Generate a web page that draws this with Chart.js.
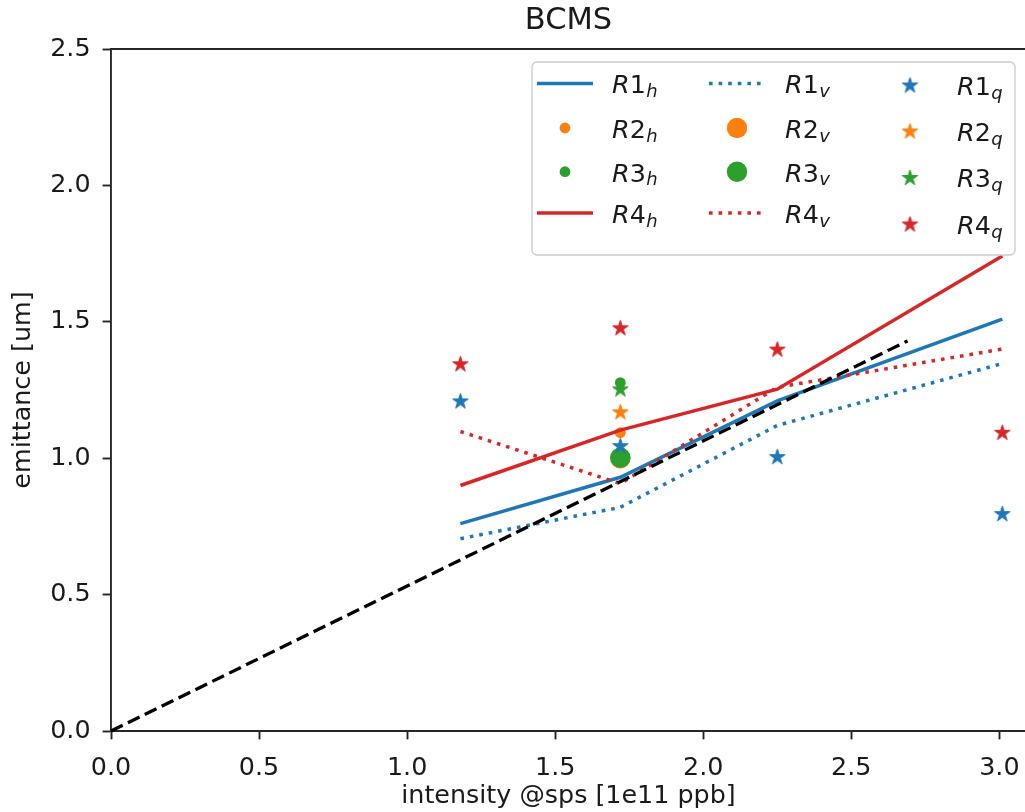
<!DOCTYPE html>
<html><head><meta charset="utf-8">
<script src="https://cdn.jsdelivr.net/npm/chart.js@4.4.0/dist/chart.umd.min.js"></script>
<style>
html,body{margin:0;padding:0;overflow:hidden;background:#fff;width:1025px;height:812px}
#wrap{position:absolute;left:0;top:0;width:1040px;height:812px}
</style>
</head><body><div id="wrap"><canvas id="c" width="1040" height="812"></canvas></div>
<script>
// ---- data ----
const intensity = [1.18, 1.72, 2.25, 3.01];
const R1h = [0.76, 0.93, 1.21, 1.51];
const R1v = [0.705, 0.82, 1.12, 1.347];
const R4h = [0.90, 1.103, 1.253, 1.741];
const R4v = [1.098, 0.907, 1.26, 1.40];
const singleX = [1.72];
const R2h = [1.094];
const R3h = [1.277];
const R2v = [1.0];
const R3v = [1.002];
const R1q = [1.21, 1.046, 1.006, 0.797];
const R2q = [1.17];
const R3q = [1.254];
const R4q = [1.346, 1.478, 1.40, 1.095];
const fitX = [0, 2.69];
const fitY = [0, 1.43];
const xTickValues = [0, 0.5, 1.0, 1.5, 2.0, 2.5, 3.0];
const yTickValues = [0, 0.5, 1.0, 1.5, 2.0, 2.5];
const titleText = 'BCMS';
const xTitle = 'intensity @sps [1e11 ppb]';
const yTitle = 'emittance [um]';

const C = {blue:'#1f77b4', orange:'#ff7f0e', green:'#2ca02c', red:'#d62728'};
const INK = '#1a1a1a';
const SPINE = '#262626';
const FONT = 'DejaVu Sans';
const FS = 25.4;

function pts(xs, ys){ return xs.map((x,i)=>({x:x, y:ys[i]})); }

function starCanvas(color, R){
  const s = Math.ceil(2*R + 4);
  const c = document.createElement('canvas'); c.width = s; c.height = s;
  const g = c.getContext('2d'); const cx = s/2, cy = s/2 + 0.6, r = R*0.382;
  g.beginPath();
  for (let i=0;i<10;i++){ const a = -Math.PI/2 + i*Math.PI/5; const rr = i%2 ? r : R;
    g.lineTo(cx + rr*Math.cos(a), cy + rr*Math.sin(a)); }
  g.closePath(); g.fillStyle = color; g.fill(); g.strokeStyle = color; g.lineWidth = 1; g.lineJoin='round'; g.stroke();
  return c;
}
const STAR_R = 8.2;
const stars = {blue:starCanvas(C.blue,STAR_R), orange:starCanvas(C.orange,STAR_R), green:starCanvas(C.green,STAR_R), red:starCanvas(C.red,STAR_R)};

const LW = 3.5;
const DOT = [3.6, 6.0];
const DASH = [13, 5.8];

function lineDs(label, data, color, dash, order){
  return {label, data, showLine:true, borderColor:color, backgroundColor:color, borderWidth:LW,
    borderDash:dash, borderCapStyle:'butt', pointRadius:0, pointHoverRadius:0,
    tension:0, order, clip:6};
}
function dotDs(label, data, color, r, order){
  return {label, data, showLine:false, pointStyle:'circle', pointRadius:r, pointHoverRadius:r,
    pointBackgroundColor:color, pointBorderColor:color, pointBorderWidth:0, order};
}
function starDs(label, data, img, order){
  return {label, data, showLine:false, pointStyle:img, pointRadius:8, pointHoverRadius:8, order};
}

const datasets = [
  lineDs('R1h', pts(intensity, R1h), C.blue, [], 100),
  dotDs('R2h', pts(singleX, R2h), C.orange, 5.4, 99),
  dotDs('R3h', pts(singleX, R3h), C.green, 5.4, 98),
  lineDs('R4h', pts(intensity, R4h), C.red, [], 97),
  lineDs('R1v', pts(intensity, R1v), C.blue, DOT, 96),
  dotDs('R2v', pts(singleX, R2v), C.orange, 10.2, 95),
  dotDs('R3v', pts(singleX, R3v), C.green, 10.2, 94),
  lineDs('R4v', pts(intensity, R4v), C.red, DOT, 93),
  starDs('R1q', pts(intensity, R1q), stars.blue, 92),
  starDs('R2q', pts(singleX, R2q), stars.orange, 91),
  starDs('R3q', pts(singleX, R3q), stars.green, 90),
  starDs('R4q', pts(intensity, R4q), stars.red, 89),
  Object.assign(lineDs('fit', pts(fitX, fitY), '#000000', DASH, 0), {borderWidth:3.3})
];

// legend layout (column-major, like the reference)
const legendItems = [
  {col:0,row:0,base:'R',num:'1',sub:'h',kind:'line',color:C.blue,dash:[]},
  {col:0,row:1,base:'R',num:'2',sub:'h',kind:'dot',color:C.orange,r:5.4},
  {col:0,row:2,base:'R',num:'3',sub:'h',kind:'dot',color:C.green,r:5.4},
  {col:0,row:3,base:'R',num:'4',sub:'h',kind:'line',color:C.red,dash:[]},
  {col:1,row:0,base:'R',num:'1',sub:'v',kind:'line',color:C.blue,dash:DOT},
  {col:1,row:1,base:'R',num:'2',sub:'v',kind:'dot',color:C.orange,r:10.2},
  {col:1,row:2,base:'R',num:'3',sub:'v',kind:'dot',color:C.green,r:10.2},
  {col:1,row:3,base:'R',num:'4',sub:'v',kind:'line',color:C.red,dash:DOT},
  {col:2,row:0,base:'R',num:'1',sub:'q',kind:'star',img:stars.blue},
  {col:2,row:1,base:'R',num:'2',sub:'q',kind:'star',img:stars.orange},
  {col:2,row:2,base:'R',num:'3',sub:'q',kind:'star',img:stars.green},
  {col:2,row:3,base:'R',num:'4',sub:'q',kind:'star',img:stars.red}
];

const legendPlugin = {
  id:'mplLegend',
  afterDatasetsDraw(chart){
    const ctx = chart.ctx; const a = chart.chartArea;
    const bx = a.right - 494, by = a.top + 13, bw = 483, bh = 193;
    ctx.save();
    ctx.beginPath();
    ctx.roundRect(bx, by, bw, bh, 5);
    ctx.fillStyle = 'rgba(255,255,255,0.85)'; ctx.fill();
    ctx.lineWidth = 1.3; ctx.strokeStyle = '#cccccc'; ctx.stroke();
    const colHandle = [bx + 33, bx + 205, bx + 378];
    const colText = [bx + 80, bx + 253, bx + 425];
    const rowY12 = [by + 21.5, by + 66, by + 109.7, by + 151];
    const rowY3 = [by + 23, by + 69, by + 115.5, by + 162];
    legendItems.forEach(it=>{
      const y = it.col === 2 ? rowY3[it.row] : rowY12[it.row];
      const hx = colHandle[it.col];
      if (it.kind === 'line'){
        ctx.beginPath(); ctx.setLineDash(it.dash); ctx.lineCap='butt';
        ctx.moveTo(hx - 28, y); ctx.lineTo(hx + 28, y);
        ctx.strokeStyle = it.color; ctx.lineWidth = LW; ctx.stroke(); ctx.setLineDash([]);
      } else if (it.kind === 'dot'){
        ctx.beginPath(); ctx.arc(hx, y, it.r, 0, Math.PI*2); ctx.fillStyle = it.color; ctx.fill();
      } else {
        ctx.drawImage(it.img, hx - it.img.width/2, y - it.img.height/2);
      }
      // math-style text
      const base = y + 9.8;
      let tx = colText[it.col];
      ctx.fillStyle = INK; ctx.textBaseline = 'alphabetic'; ctx.textAlign = 'left';
      ctx.font = 'italic ' + FS + 'px "' + FONT + '"';
      ctx.fillText(it.base, tx, base); tx += ctx.measureText(it.base).width;
      ctx.font = FS + 'px "' + FONT + '"';
      ctx.fillText(it.num, tx, base); tx += ctx.measureText(it.num).width;
      ctx.font = 'italic 18px "' + FONT + '"';
      ctx.fillText(it.sub, tx + 0.5, base + 3.8);
    });
    ctx.restore();
  }
};

const topSpine = {
  id:'topSpine',
  afterDraw(chart){
    const ctx = chart.ctx, a = chart.chartArea;
    ctx.save(); ctx.strokeStyle = SPINE; ctx.lineWidth = 1.9;
    ctx.beginPath(); ctx.moveTo(a.left - 1, a.top); ctx.lineTo(a.right + 2, a.top); ctx.stroke();
    ctx.restore();
  }
};

const fmt = v => Number(v).toFixed(1);

new Chart(document.getElementById('c'), {
  type:'scatter',
  data:{datasets},
  options:{
    responsive:false, animation:false, devicePixelRatio:1,
    layout:{padding:{left:0, right:14, top:0, bottom:0}},
    plugins:{
      legend:{display:false}, tooltip:{enabled:false},
      title:{display:true, fullSize:false, text:titleText, color:INK, font:{family:FONT, size:30.5, weight:'normal'},
        padding:{top:3, bottom:9.4}}
    },
    scales:{
      x:{type:'linear', min:0, max:3.09,
        afterFit(s){ s.height = 81; },
        afterBuildTicks(s){ s.ticks = xTickValues.map(v=>({value:v})); },
        ticks:{color:INK, font:{family:FONT, size:FS}, padding:14, maxRotation:0, autoSkip:false, callback:fmt},
        grid:{drawOnChartArea:false, drawTicks:true, tickLength:8.4, tickWidth:1.9, tickColor:SPINE},
        border:{display:true, color:SPINE, width:1.9},
        title:{display:true, text:xTitle, color:INK, font:{family:FONT, size:FS}, padding:{top:0, bottom:0}}
      },
      y:{type:'linear', min:0, max:2.5,
        afterFit(s){ s.width = 111; },
        afterBuildTicks(s){ s.ticks = yTickValues.map(v=>({value:v})); },
        ticks:{color:INK, font:{family:FONT, size:FS}, padding:12, autoSkip:false, callback:fmt},
        grid:{drawOnChartArea:false, drawTicks:true, tickLength:8.4, tickWidth:1.9, tickColor:SPINE},
        border:{display:true, color:SPINE, width:1.9},
        title:{display:true, text:yTitle, color:INK, font:{family:FONT, size:FS}, padding:{top:8, bottom:0}}
      }
    }
  },
  plugins:[legendPlugin, topSpine]
});
</script>
</body></html>
